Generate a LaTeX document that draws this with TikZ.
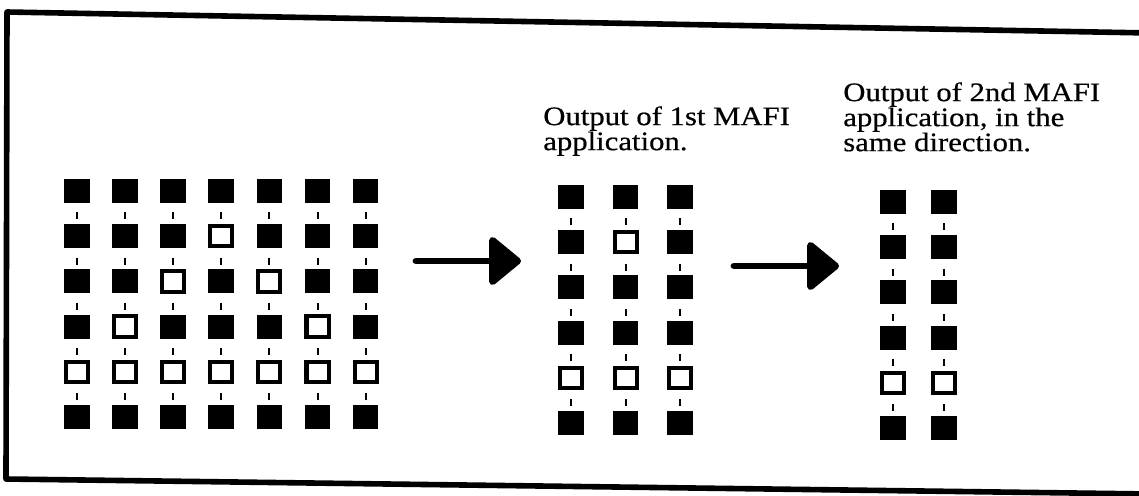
\documentclass[tikz,border=0pt]{standalone}
\usepackage{fontspec}
\setmainfont[FakeStretch=1.15, FakeBold=0.6]{Liberation Serif}
\usetikzlibrary{arrows.meta,calc}

\tikzset{
  fullsq/.style={draw=black, fill=black, line width=0.05cm, minimum width=0.59cm, minimum height=0.55cm, inner sep=0pt},
  opensq/.style={draw=black, fill=white, line width=0.1cm, minimum width=0.55cm, minimum height=0.51cm, inner sep=0pt},
  tick/.style={black, line width=0.05cm},
  bigarrow/.style={line width=0.17cm, line cap=round, -{Triangle[length=0.85cm, width=1.35cm, round]}},
  caption/.style={anchor=north west, inner sep=0pt, align=left, font=\fontsize{19pt}{17.8pt}\selectfont}
}

\begin{document}
\begin{tikzpicture}[x=0.025cm, y=-0.025cm]

    \useasboundingbox (0,0) rectangle (1139,495);

    % Draw the (slightly skewed) frame
    \begin{scope}
      \clip (0,0) rectangle (1139,495);
      \draw[line width=0.14cm, line join=round] (7,12) -- (1150,33) -- (1150,494) -- (6,479) -- cycle;
    \end{scope}

    % Input grid, 7 columns
    \foreach \r/\row in {1/{fullsq,fullsq,fullsq,fullsq,fullsq,fullsq,fullsq},
                         2/{fullsq,fullsq,fullsq,opensq,fullsq,fullsq,fullsq},
                         3/{fullsq,fullsq,opensq,fullsq,opensq,fullsq,fullsq},
                         4/{fullsq,opensq,fullsq,fullsq,fullsq,opensq,fullsq},
                         5/{opensq,opensq,opensq,opensq,opensq,opensq,opensq},
                         6/{fullsq,fullsq,fullsq,fullsq,fullsq,fullsq,fullsq}}
      \foreach \s [count=\c] in \row
        \node[\s] (in-\r-\c) at ({77+48.1*(\c-1)}, {191+45.2*(\r-1)}) {};

    % First output, 3 columns
    \foreach \r/\row in {1/{fullsq,fullsq,fullsq}, 2/{fullsq,opensq,fullsq},
                         3/{fullsq,fullsq,fullsq}, 4/{fullsq,fullsq,fullsq},
                         5/{opensq,opensq,opensq}, 6/{fullsq,fullsq,fullsq}}
      \foreach \s [count=\c] in \row
        \node[\s] (one-\r-\c) at ({571+54.5*(\c-1)}, {197+45.2*(\r-1)}) {};

    % Second output, 2 columns
    \foreach \r/\row in {1/{fullsq,fullsq}, 2/{fullsq,fullsq}, 3/{fullsq,fullsq},
                         4/{fullsq,fullsq}, 5/{opensq,opensq}, 6/{fullsq,fullsq}}
      \foreach \s [count=\c] in \row
        \node[\s] (two-\r-\c) at ({893+51*(\c-1)}, {202+45.2*(\r-1)}) {};

    % Small ticks between rows
    \foreach \r [evaluate=\r as \p using int(\r-1)] in {2,...,6} {
      \foreach \c in {1,...,7}
        \draw[tick] ($(in-\p-\c)!0.55!(in-\r-\c)$) ++(0,-3.5) -- ++(0,7);
      \foreach \c in {1,2,3}
        \draw[tick] ($(one-\p-\c)!0.55!(one-\r-\c)$) ++(0,-3.5) -- ++(0,7);
      \foreach \c in {1,2}
        \draw[tick] ($(two-\p-\c)!0.55!(two-\r-\c)$) ++(0,-3.5) -- ++(0,7);
    }

    % Arrows
    \coordinate (arrA-s) at (416,261);
    \coordinate (arrA-e) at (521,261);
    \coordinate (arrB-s) at (734,266);
    \coordinate (arrB-e) at (839,266);
    \draw[bigarrow] (arrA-s) -- (arrA-e);
    \draw[bigarrow] (arrB-s) -- (arrB-e);

    % Captions
    \node[caption] (capA) at (543,106) {Output of 1st MAFI\\application.};
    \node[caption] (capB) at (843,82) {Output of 2nd MAFI\\application, in the\\same direction.};

\end{tikzpicture}
\end{document}
